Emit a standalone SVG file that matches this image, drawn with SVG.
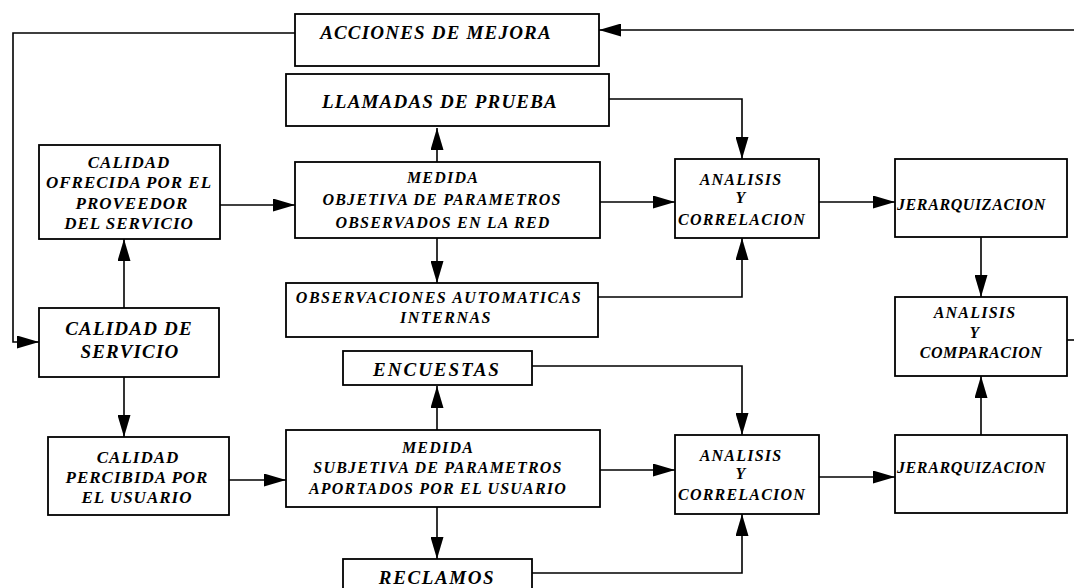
<svg xmlns="http://www.w3.org/2000/svg" width="1074" height="588" viewBox="0 0 1074 588" font-family="'Liberation Serif', 'DejaVu Serif', serif">
<defs>
<marker id="ah" markerUnits="userSpaceOnUse" markerWidth="22" markerHeight="13" refX="22" refY="6.5" orient="auto">
<path d="M0,0 L22,6.5 L0,13 z" fill="#000"/>
</marker>
<style>
.box{fill:#fff;stroke:#000;stroke-width:1.8}
text{font-family:'Liberation Serif','DejaVu Serif',serif;font-weight:bold;font-style:italic;fill:#000;font-size:16px;text-anchor:middle}
.big{font-size:19px;letter-spacing:1.2px}
.mid{font-size:17px;letter-spacing:1px}
.med{letter-spacing:1.2px}
.obs{letter-spacing:1.5px}
.an{letter-spacing:1.2px}
.jer{letter-spacing:0.6px;text-anchor:start}
#connectors path{fill:none;stroke:#000;stroke-width:1.6}
.arr{marker-end:url(#ah)}
</style>
</defs>
<rect width="1074" height="588" fill="#fff"/>
<g id="connectors">
<path class="arr" d="M295,33 H13 V342 H39"/>
<path class="arr" d="M1074,30 H599"/>
<path class="arr" d="M609,99 H742 V159"/>
<path class="arr" d="M437,162 V128"/>
<path class="arr" d="M437,238 V283"/>
<path class="arr" d="M220,205 H295"/>
<path class="arr" d="M600,202 H675"/>
<path class="arr" d="M819,202 H895"/>
<path class="arr" d="M598,297 H742 V238"/>
<path class="arr" d="M981,237 V297"/>
<path d="M1067,340 H1074"/>
<path class="arr" d="M124,308 V239"/>
<path class="arr" d="M124,377 V437"/>
<path class="arr" d="M229,480 H286"/>
<path class="arr" d="M437,430 V386"/>
<path class="arr" d="M437,507 V559"/>
<path class="arr" d="M532,366 H742 V435"/>
<path class="arr" d="M600,470 H675"/>
<path class="arr" d="M532,573 H742 V514"/>
<path class="arr" d="M819,477 H895"/>
<path class="arr" d="M981,435 V376"/>
</g>
<g id="acciones">
<rect class="box" x="295" y="14" width="304" height="52"/>
<text class="big" x="436" y="39">ACCIONES DE MEJORA</text>
</g>
<g id="llamadas">
<rect class="box" x="286" y="74" width="323" height="52"/>
<text class="big" x="440" y="108">LLAMADAS DE PRUEBA</text>
</g>
<g id="calidad-ofrecida">
<rect class="box" x="39" y="145" width="181" height="94"/>
<text class="mid" x="129" y="168">CALIDAD</text>
<text class="mid" x="129" y="188">OFRECIDA POR EL</text>
<text class="mid" x="132" y="209">PROVEEDOR</text>
<text class="mid" x="129" y="229">DEL SERVICIO</text>
</g>
<g id="medida-objetiva">
<rect class="box" x="295" y="162" width="305" height="76"/>
<text class="med" x="443" y="183">MEDIDA</text>
<text class="med" x="442" y="205">OBJETIVA DE PARAMETROS</text>
<text class="med" x="443" y="228">OBSERVADOS EN LA RED</text>
</g>
<g id="analisis-correlacion-1">
<rect class="box" x="675" y="159" width="144" height="79"/>
<text class="an" x="741" y="185">ANALISIS</text>
<text class="an" x="741" y="203">Y</text>
<text class="an" x="742" y="225">CORRELACION</text>
</g>
<g id="jerarquizacion-1">
<rect class="box" x="895" y="159" width="172" height="78"/>
<text class="jer" x="897" y="210">JERARQUIZACION</text>
</g>
<g id="observaciones">
<rect class="box" x="286" y="283" width="312" height="54"/>
<text class="obs" x="439" y="303">OBSERVACIONES AUTOMATICAS</text>
<text class="obs" x="446" y="323">INTERNAS</text>
</g>
<g id="calidad-servicio">
<rect class="box" x="39" y="308" width="180" height="69"/>
<text class="big" x="129" y="335">CALIDAD DE</text>
<text class="big" x="130" y="358">SERVICIO</text>
</g>
<g id="analisis-comparacion">
<rect class="box" x="895" y="297" width="172" height="79"/>
<text class="an" x="975" y="318">ANALISIS</text>
<text class="an" x="975" y="338">Y</text>
<text style="letter-spacing:0.5px" x="981" y="358">COMPARACION</text>
</g>
<g id="encuestas">
<rect class="box" x="343" y="351" width="189" height="34"/>
<text class="big" style="letter-spacing:2px" x="437" y="376">ENCUESTAS</text>
</g>
<g id="calidad-percibida">
<rect class="box" x="48" y="437" width="181" height="78"/>
<text class="mid" x="138" y="463">CALIDAD</text>
<text class="mid" x="137" y="483">PERCIBIDA POR</text>
<text class="mid" x="137" y="503">EL USUARIO</text>
</g>
<g id="medida-subjetiva">
<rect class="box" x="286" y="430" width="314" height="77"/>
<text class="med" x="438" y="453">MEDIDA</text>
<text class="med" x="438" y="473">SUBJETIVA DE PARAMETROS</text>
<text class="med" x="438" y="494">APORTADOS POR EL USUARIO</text>
</g>
<g id="analisis-correlacion-2">
<rect class="box" x="675" y="435" width="144" height="79"/>
<text class="an" x="741" y="461">ANALISIS</text>
<text class="an" x="741" y="479">Y</text>
<text class="an" x="742" y="500">CORRELACION</text>
</g>
<g id="jerarquizacion-2">
<rect class="box" x="895" y="435" width="172" height="78"/>
<text class="jer" x="897" y="473">JERARQUIZACION</text>
</g>
<g id="reclamos">
<rect class="box" x="343" y="559" width="189" height="40"/>
<text class="big" style="letter-spacing:1.6px" x="437" y="584">RECLAMOS</text>
</g>
</svg>
